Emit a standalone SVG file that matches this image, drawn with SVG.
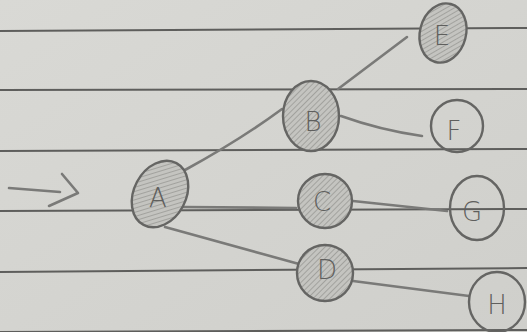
<svg xmlns="http://www.w3.org/2000/svg" width="527" height="332" viewBox="0 0 527 332">
<defs>
<linearGradient id="paper" x1="0" y1="0" x2="1" y2="1">
<stop offset="0" stop-color="#d9d9d5"/>
<stop offset="1" stop-color="#cfcfcb"/>
</linearGradient>
<pattern id="hatch" width="4" height="4" patternUnits="userSpaceOnUse" patternTransform="rotate(45)">
<rect width="4" height="4" fill="#c4c4c0"/>
<line x1="0" y1="0" x2="0" y2="4" stroke="#999995" stroke-width="1.6"/>
</pattern>
</defs>
<style>
.rule{stroke:#5e5e5c;stroke-width:2;fill:none}
.edge{stroke:#7a7a78;stroke-width:2.6;fill:none;stroke-linecap:round;stroke-linejoin:round}
.node{stroke:#656563;stroke-width:2.4}
.shaded{fill:url(#hatch)}
.plain{fill:none}
.lbl{font-family:"DejaVu Sans",sans-serif;font-size:26px;font-weight:300;fill:#5f5f5d;text-anchor:middle;dominant-baseline:central}
</style>
<rect width="527" height="332" fill="url(#paper)"/>
<g id="rules">
<line class="rule" x1="0" y1="31" x2="527" y2="28"/>
<line class="rule" x1="0" y1="90" x2="527" y2="89"/>
<line class="rule" x1="0" y1="151" x2="527" y2="149"/>
<line class="rule" x1="0" y1="211" x2="527" y2="209"/>
<line class="rule" x1="0" y1="272" x2="527" y2="268"/>
<line class="rule" x1="0" y1="332" x2="527" y2="330"/>
</g>
<g id="connectors">
<path class="edge" d="M9,188 L60,192"/>
<path class="edge" d="M62,174 L78,193 L49,206"/>
<path class="edge" d="M185,170 Q240,140 282,109"/>
<path class="edge" d="M183,207 L296,208"/>
<path class="edge" d="M165,227 L299,264"/>
<path class="edge" d="M338,89 L407,37"/>
<path class="edge" d="M341,116 Q380,130 422,136"/>
<path class="edge" d="M353,201 L447,211"/>
<path class="edge" d="M353,281 L469,296"/>
</g>
<g id="node-A">
<ellipse class="node shaded" cx="160" cy="194" rx="26" ry="35" transform="rotate(28 160 194)"/>
<text class="lbl" x="158" y="198">A</text>
</g>
<g id="node-B">
<ellipse class="node shaded" cx="311" cy="116" rx="28" ry="35"/>
<text class="lbl" x="313" y="122">B</text>
</g>
<g id="node-C">
<ellipse class="node shaded" cx="325" cy="201" rx="27" ry="27"/>
<text class="lbl" x="322" y="202">C</text>
</g>
<g id="node-D">
<ellipse class="node shaded" cx="325" cy="273" rx="28" ry="28"/>
<text class="lbl" x="327" y="270">D</text>
</g>
<g id="node-E">
<ellipse class="node shaded" cx="443" cy="33" rx="23" ry="30" transform="rotate(15 443 33)"/>
<text class="lbl" x="442" y="36">E</text>
</g>
<g id="node-F">
<ellipse class="node plain" cx="457" cy="126" rx="26" ry="26"/>
<text class="lbl" x="454" y="131">F</text>
</g>
<g id="node-G">
<ellipse class="node plain" cx="477" cy="208" rx="27" ry="32"/>
<text class="lbl" x="472" y="212">G</text>
</g>
<g id="node-H">
<ellipse class="node plain" cx="497" cy="302" rx="28" ry="30"/>
<text class="lbl" x="497" y="305">H</text>
</g>
</svg>
